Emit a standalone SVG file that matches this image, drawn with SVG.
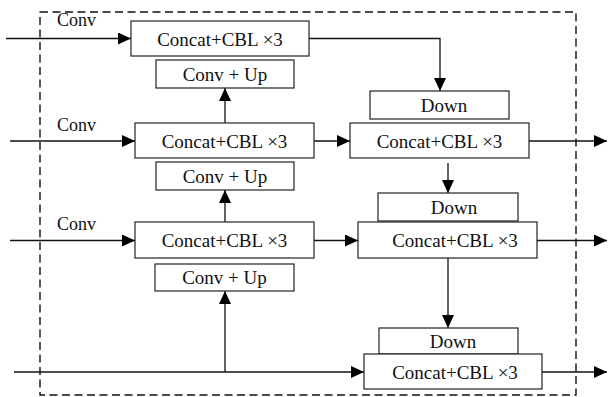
<svg xmlns="http://www.w3.org/2000/svg" width="608" height="397" viewBox="0 0 608 397">
  <style>
    .box { fill: #fff; stroke: #222; stroke-width: 1.2; }
    .lbl { font-family: "Liberation Serif", "Times New Roman", serif; font-size: 19px; fill: #111; text-anchor: middle; }
    .side { font-family: "Liberation Serif", "Times New Roman", serif; font-size: 18px; fill: #111; }
    .wire { fill: none; stroke: #111; stroke-width: 1.3; }
    .frame { fill: none; stroke: #111; stroke-width: 1.4; stroke-dasharray: 8 4.5; }
  </style>
  <defs>
    <marker id="arr" markerUnits="userSpaceOnUse" markerWidth="14" markerHeight="12" refX="13" refY="6" orient="auto">
      <path d="M0,0 L13,6 L0,12 Z" fill="#000"/>
    </marker>
  </defs>

  <rect class="frame" x="40" y="12" width="536" height="383"/>

  <g id="connectors">
    <!-- inputs -->
    <path class="wire" d="M6,38.5 H131" marker-end="url(#arr)"/>
    <path class="wire" d="M10,141 H135" marker-end="url(#arr)"/>
    <path class="wire" d="M10,240.5 H135" marker-end="url(#arr)"/>
    <path class="wire" d="M14,372 H364" marker-end="url(#arr)"/>
    <!-- upsample path -->
    <path class="wire" d="M225,372 V291" marker-end="url(#arr)"/>
    <path class="wire" d="M225,222 V190" marker-end="url(#arr)"/>
    <path class="wire" d="M225,123 V88" marker-end="url(#arr)"/>
    <!-- downsample path -->
    <path class="wire" d="M309,38.5 H440 V91" marker-end="url(#arr)"/>
    <path class="wire" d="M314,141 H350" marker-end="url(#arr)"/>
    <path class="wire" d="M448,163 V193" marker-end="url(#arr)"/>
    <path class="wire" d="M314,240.5 H358" marker-end="url(#arr)"/>
    <path class="wire" d="M448,258 V328" marker-end="url(#arr)"/>
    <!-- outputs -->
    <path class="wire" d="M529,141 H607" marker-end="url(#arr)"/>
    <path class="wire" d="M537,240.5 H607" marker-end="url(#arr)"/>
    <path class="wire" d="M542,372 H607" marker-end="url(#arr)"/>
  </g>

  <g id="labels">
    <text class="side" x="57" y="26">Conv</text>
    <text class="side" x="57" y="131">Conv</text>
    <text class="side" x="57" y="230">Conv</text>
  </g>

  <g id="cbl1">
    <rect class="box" x="131" y="21" width="178" height="35"/>
    <text class="lbl" x="220" y="45.5">Concat+CBL ×3</text>
  </g>
  <g id="up1">
    <rect class="box" x="156" y="60" width="138" height="28"/>
    <text class="lbl" x="225" y="80.5">Conv + Up</text>
  </g>
  <g id="cbl2">
    <rect class="box" x="135" y="123" width="179" height="35"/>
    <text class="lbl" x="224.5" y="147.5">Concat+CBL ×3</text>
  </g>
  <g id="up2">
    <rect class="box" x="156" y="162" width="138" height="28"/>
    <text class="lbl" x="225" y="182.5">Conv + Up</text>
  </g>
  <g id="cbl3">
    <rect class="box" x="135" y="222" width="179" height="36"/>
    <text class="lbl" x="224.5" y="247">Concat+CBL ×3</text>
  </g>
  <g id="up3">
    <rect class="box" x="155" y="264" width="139" height="27"/>
    <text class="lbl" x="224.5" y="284">Conv + Up</text>
  </g>

  <g id="down1">
    <rect class="box" x="370" y="91" width="139" height="28"/>
    <text class="lbl" x="444" y="111.5">Down</text>
  </g>
  <g id="cbl4">
    <rect class="box" x="350" y="123" width="179" height="35"/>
    <text class="lbl" x="439.5" y="147.5">Concat+CBL ×3</text>
  </g>
  <g id="down2">
    <rect class="box" x="378" y="193" width="140" height="28"/>
    <text class="lbl" x="454" y="213.5">Down</text>
  </g>
  <g id="cbl5">
    <rect class="box" x="358" y="222" width="179" height="36"/>
    <text class="lbl" x="455" y="247">Concat+CBL ×3</text>
  </g>
  <g id="down3">
    <rect class="box" x="379" y="328" width="139" height="26"/>
    <text class="lbl" x="453" y="347.5">Down</text>
  </g>
  <g id="cbl6">
    <rect class="box" x="364" y="354" width="178" height="35"/>
    <text class="lbl" x="455" y="378.5">Concat+CBL ×3</text>
  </g>
</svg>
